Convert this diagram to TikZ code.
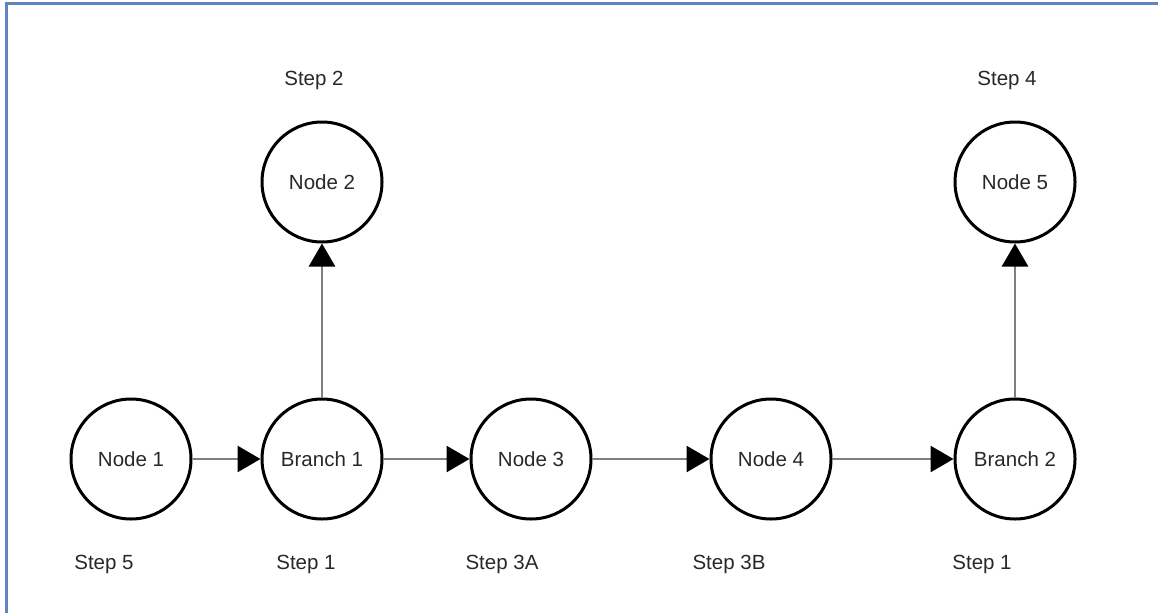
\documentclass[tikz,border=0pt]{standalone}
\usepackage{fontspec}
\setmainfont{Liberation Sans}
\usetikzlibrary{arrows.meta}
\definecolor{framec}{RGB}{91,134,192}
\definecolor{linkc}{RGB}{128,128,128}
\definecolor{textc}{RGB}{40,40,40}
\begin{document}
\begin{tikzpicture}[x=1pt,y=-1pt,
  state/.style={circle,draw=black,line width=3pt,minimum size=120pt,inner sep=0pt,
    font=\fontsize{20.5}{24}\selectfont,text=textc},
  steplabel/.style={font=\fontsize{20.5}{24}\selectfont,text=textc,inner sep=0pt},
  link/.style={draw=linkc,line width=2.8pt,-{Triangle[length=23pt,width=26pt,color=black]}}]
  \useasboundingbox (0,0) rectangle (1158,613);
  % frame edges
  \draw[framec,line width=3pt] (6,613) -- (6,3) -- (1158,3);
  % circles
  \node[state] (n1) at (131,459) {Node 1};
  \node[state] (b1) at (322,459) {Branch 1};
  \node[state] (n2) at (322,182) {Node 2};
  \node[state] (n3) at (531,459) {Node 3};
  \node[state] (n4) at (771,459) {Node 4};
  \node[state] (b2) at (1015,459) {Branch 2};
  \node[state] (n5) at (1015,182) {Node 5};
  % connectors
  \draw[link] (n1) -- (b1);
  \draw[link] (b1) -- (n2);
  \draw[link] (b1) -- (n3);
  \draw[link] (n3) -- (n4);
  \draw[link] (n4) -- (b2);
  \draw[link] (b2) -- (n5);
  % step labels
  \node[steplabel] (s2) at (314,80) {Step 2};
  \node[steplabel] (s4) at (1007,80) {Step 4};
  \node[steplabel] (s5) at (104,564) {Step 5};
  \node[steplabel] (s1a) at (306,564) {Step 1};
  \node[steplabel] (s3a) at (502,564) {Step 3A};
  \node[steplabel] (s3b) at (729,564) {Step 3B};
  \node[steplabel] (s1b) at (982,564) {Step 1};
\end{tikzpicture}
\end{document}
